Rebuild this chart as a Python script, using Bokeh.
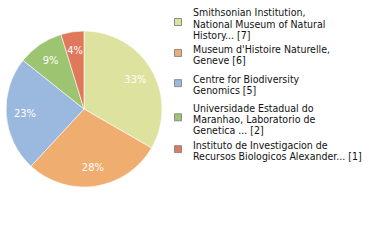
import math
from bokeh.plotting import figure
from bokeh.models import Range1d
from bokeh.core.properties import value
from bokeh.embed import file_html
from bokeh.resources import INLINE

# ---- data ----
categories = [
    "Smithsonian Institution, National Museum of Natural History...",
    "Museum d'Histoire Naturelle, Geneve",
    "Centre for Biodiversity Genomics",
    "Universidade Estadual do Maranhao, Laboratorio de Genetica ...",
    "Instituto de Investigacion de Recursos Biologicos Alexander...",
]
legend_lines = [
    ["Smithsonian Institution,", "National Museum of Natural", "History... [7]"],
    ["Museum d'Histoire Naturelle,", "Geneve [6]"],
    ["Centre for Biodiversity", "Genomics [5]"],
    ["Universidade Estadual do", "Maranhao, Laboratorio de", "Genetica ... [2]"],
    ["Instituto de Investigacion de", "Recursos Biologicos Alexander... [1]"],
]
counts = [7, 6, 5, 2, 1]
colors = ["#dde39e", "#f0ad70", "#9bb9de", "#9dc470", "#e0795c"]

# ---- layout ----
W, H = 380, 240
cx, cy, R = 83.5, 108.5, 78.0          # pie centre (screen px) and radius
label_r = 0.76 * R
legend_text_x = 192.5
legend_sq_x = 177.5
legend_first_line = [11.7, 48.3, 78.5, 107.0, 144.5]
line_h = 11.3
font = "DejaVu Sans Condensed"

def sy(y):
    return H - y

p = figure(width=W, height=H, output_backend="svg", toolbar_location=None,
           x_range=Range1d(0, W), y_range=Range1d(0, H), min_border=0)
p.axis.visible = False
p.grid.visible = False
p.outline_line_color = None
p.background_fill_color = "white"

total = sum(counts)
cum = 0
starts, ends, lx, ly, ltxt = [], [], [], [], []
for c in counts:
    a0 = cum / total * 2 * math.pi
    cum += c
    a1 = cum / total * 2 * math.pi
    starts.append(math.pi / 2 - a1)
    ends.append(math.pi / 2 - a0)
    mid = (a0 + a1) / 2
    lx.append(cx + label_r * math.sin(mid))
    ly.append(sy(cy - label_r * math.cos(mid)))
    ltxt.append("%d%%" % int(100 * c / total))

p.wedge(x=[cx] * len(counts), y=[sy(cy)] * len(counts), radius=R,
        start_angle=starts, end_angle=ends, fill_color=colors,
        line_color="white", line_width=0.6)

p.text(x=lx, y=ly, text=ltxt, text_color="white", text_font=value(font),
       text_font_size="11px", text_align="center", text_baseline="middle")

# legend
tx, ty, tt = [], [], []
sqx, sqy = [], []
for lines, y0 in zip(legend_lines, legend_first_line):
    for i, t in enumerate(lines):
        tx.append(legend_text_x)
        ty.append(sy(y0 + i * line_h))
        tt.append(t)
    center = y0 + (len(lines) - 1) * line_h / 2 - 1.5
    sqx.append(legend_sq_x)
    sqy.append(sy(center))

p.rect(x=sqx, y=sqy, width=7, height=7, fill_color=colors,
       line_color="#8c8c8c", line_width=1)
p.text(x=tx, y=ty, text=tt, text_color="#111111", text_font=value(font),
       text_font_size="10.5px", text_align="left", text_baseline="middle")

open("out.html", "w").write(file_html(p, INLINE))
